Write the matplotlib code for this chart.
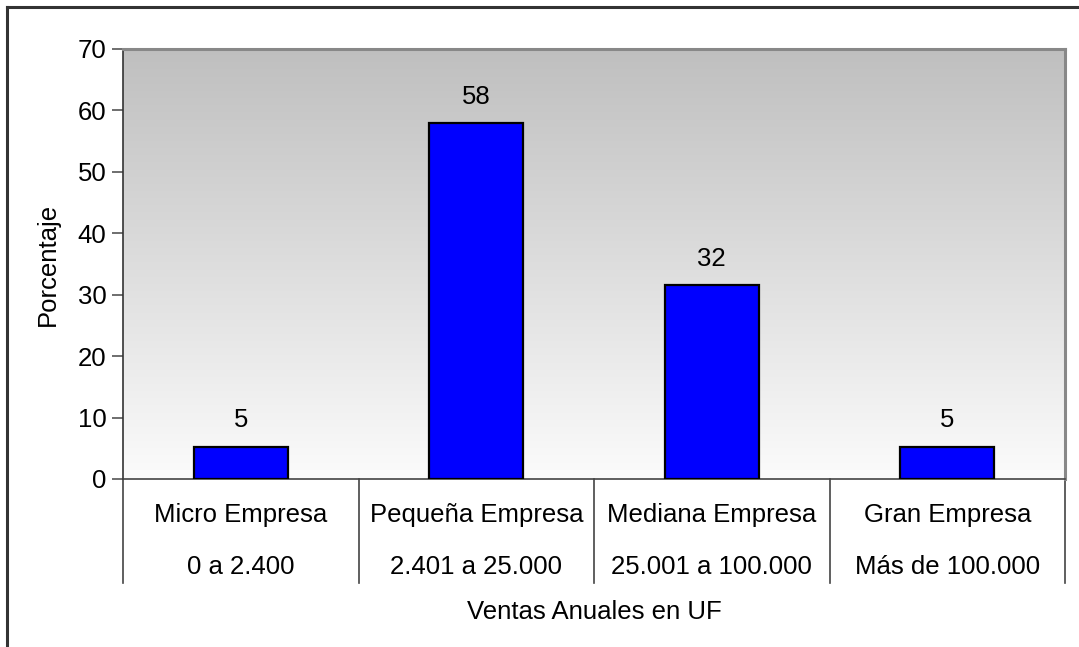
import numpy as np
import matplotlib
matplotlib.use("Agg")
import matplotlib.pyplot as plt
from matplotlib.lines import Line2D
from matplotlib.transforms import blended_transform_factory

plt.rcParams["font.family"] = ["Liberation Sans", "DejaVu Sans"]

# datos (19 empresas: 1, 11, 6, 1)
categorias = ["Micro Empresa", "Pequeña Empresa", "Mediana Empresa", "Gran Empresa"]
rangos = ["0 a 2.400", "2.401 a 25.000", "25.001 a 100.000", "Más de 100.000"]
porcentaje = [5.26, 57.89, 31.58, 5.26]
yticks = [0, 10, 20, 30, 40, 50, 60, 70]

W, H = 1079, 647
fig = plt.figure(figsize=(W / 100, H / 100), dpi=100)
fig.patch.set_facecolor("white")

# marco exterior (solo izquierda y arriba visibles)
fig.add_artist(Line2D([7 / W, 7 / W], [0, 1 - 7 / H], color="#333333", lw=2.2))
fig.add_artist(Line2D([7 / W, 1], [1 - 7 / H, 1 - 7 / H], color="#333333", lw=2.2))

left, right, top, bottom = 123, 1065, 49, 479
ax = fig.add_axes([left / W, 1 - bottom / H, (right - left) / W, (bottom - top) / H])

# fondo degradado gris (arriba) -> blanco (abajo)
grad = np.linspace(0.75, 0.985, 256).reshape(-1, 1)
ax.imshow(np.dstack([grad, grad, grad]), aspect="auto", extent=[-0.5, 3.5, 0, 70],
          origin="upper", zorder=0, interpolation="bicubic")

x = np.arange(len(categorias))
ax.bar(x, porcentaje, width=0.40, color="#0000FF", edgecolor="black", linewidth=1.6, zorder=3)
for xi, v in zip(x, porcentaje):
    ax.text(xi, v + 4.3, f"{v:.0f}", ha="center", va="center", fontsize=18.5)

ax.set_xlim(-0.5, 3.5)
ax.set_ylim(0, 70)
ax.set_yticks(yticks)
ax.tick_params(axis="y", length=8, width=1.2, color="#555555", labelsize=18.5, pad=4)
ax.set_xticks([])

for s in ["top", "right"]:
    ax.spines[s].set_color("#888888")
    ax.spines[s].set_linewidth(2.2)
ax.spines["left"].set_color("#333333")
ax.spines["bottom"].set_color("#444444")
ax.spines["left"].set_linewidth(1.2)
ax.spines["bottom"].set_linewidth(1.2)

# etiquetas de categoria en dos niveles con separadores
tr = blended_transform_factory(ax.transData, ax.transAxes)
for b in np.arange(-0.5, 4.0, 1.0):
    ax.plot([b, b], [0, -0.242], transform=tr, color="#444444", lw=1.2, clip_on=False)
for xi, c, r in zip(x, categorias, rangos):
    ax.text(xi, -0.0837, c, transform=tr, ha="center", va="center", fontsize=18.5)
    ax.text(xi, -0.2047, r, transform=tr, ha="center", va="center", fontsize=18.5)

ax.text(0.5, -0.309, "Ventas Anuales en UF", transform=ax.transAxes,
        ha="center", va="center", fontsize=18.5)
ax.text(-0.0796, 0.5, "Porcentaje", transform=ax.transAxes, rotation=90,
        ha="center", va="center", fontsize=18.5)

fig.savefig("out.png", dpi=100)
